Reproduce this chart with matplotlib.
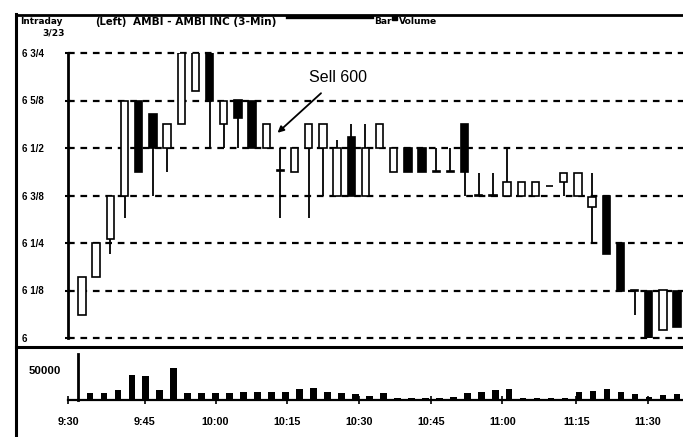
import matplotlib
matplotlib.use("Agg")
import matplotlib.pyplot as plt
from matplotlib.lines import Line2D
from matplotlib.patches import Rectangle

W, H = 683, 437

# ---------------- data ----------------
bar_index = list(range(1, 44))
opens  = [6.06, 6.16, 6.26, 6.375, 6.625, 6.59, 6.5, 6.5625, 6.65, 6.75,
          6.5625, 6.625, 6.625, 6.5, 6.44, 6.4375, 6.5, 6.5, 6.375, 6.53,
          6.375, 6.5, 6.4375, 6.5, 6.5, 6.4375, 6.4375, 6.5625, 6.375, 6.375,
          6.375, 6.375, 6.375, 6.40, 6.41, 6.375, 6.345, 6.375, 6.25, 6.125,
          6.125, 6.02, 6.125]
highs  = [6.16, 6.25, 6.375, 6.625, 6.625, 6.59, 6.5625, 6.75, 6.75, 6.75,
          6.625, 6.625, 6.625, 6.5625, 6.5, 6.5, 6.5625, 6.5625, 6.52, 6.5625,
          6.5625, 6.5625, 6.5, 6.5, 6.5, 6.5, 6.5, 6.5625, 6.434, 6.434,
          6.5, 6.41, 6.41, 6.40, 6.434, 6.434, 6.434, 6.375, 6.25, 6.125,
          6.125, 6.125, 6.125]
lows   = [6.06, 6.16, 6.22, 6.315, 6.4375, 6.375, 6.4375, 6.5625, 6.65, 6.5,
          6.5, 6.5, 6.5, 6.5, 6.316, 6.4375, 6.316, 6.375, 6.375, 6.375,
          6.375, 6.5, 6.4375, 6.4375, 6.4375, 6.4375, 6.4375, 6.375, 6.375, 6.375,
          6.375, 6.375, 6.375, 6.40, 6.375, 6.375, 6.25, 6.22, 6.125, 6.06,
          6.0, 6.02, 6.03]
closes = [6.16, 6.25, 6.375, 6.625, 6.4375, 6.5, 6.5625, 6.75, 6.75, 6.625,
          6.625, 6.58, 6.5, 6.5625, 6.44, 6.5, 6.5625, 6.5625, 6.5, 6.375,
          6.5, 6.5625, 6.5, 6.4375, 6.4375, 6.4375, 6.4375, 6.4375, 6.375, 6.375,
          6.41, 6.41, 6.41, 6.40, 6.434, 6.434, 6.37, 6.22, 6.125, 6.125,
          6.0, 6.125, 6.03]
volumes = [12000, 12000, 17000, 42000, 40000, 17000, 54000, 11000, 11000, 12000,
           11000, 13000, 13000, 14000, 14000, 18000, 20000, 14000, 12000, 10000,
           6000, 12000, 3000, 3000, 3000, 3000, 5000, 12000, 13000, 16000,
           19000, 4000, 3000, 3000, 3000, 13000, 15000, 18000, 13000, 10000,
           5000, 8000, 10000]

price_ticks = [6.0, 6.125, 6.25, 6.375, 6.5, 6.625, 6.75]
price_labels = ["6", "6 1/8", "6 1/4", "6 3/8", "6 1/2", "6 5/8", "6 3/4"]
time_labels = ["9:30", "9:45", "10:00", "10:15", "10:30", "10:45", "11:00", "11:15", "11:30"]
time_positions = [-0.55, 4.95, 10.0, 15.1, 20.25, 25.4, 30.5, 35.8, 40.9]

# ---------------- layout helpers ----------------
def box(x0, y0, x1, y1):
    return [x0 / W, 1 - y1 / H, (x1 - x0) / W, (y1 - y0) / H]

def px_to_idx(x):
    return (x - 82) / 14.17 + 1

FONT = "Liberation Sans"
WIDE = "DejaVu Sans"
fig = plt.figure(figsize=(W / 100, H / 100), dpi=100)
fig.patch.set_facecolor("white")

# overlay for frame / decoration in pixel coords
ov = fig.add_axes([0, 0, 1, 1])
ov.set_xlim(0, W)
ov.set_ylim(H, 0)
ov.axis("off")
ov.add_line(Line2D([16, 16], [14, 437], color="black", lw=2.2))
ov.add_line(Line2D([16, 683], [14.5, 14.5], color="black", lw=2.0))
ov.add_line(Line2D([16, 683], [347, 347], color="black", lw=2.2))
ov.text(20, 22, "Intraday", fontsize=6.4, fontweight="bold", family=WIDE, va="center")
ov.text(95, 22, "(Left)", fontsize=7.2, fontweight="bold", family=WIDE, va="center")
ov.text(133, 22, "AMBI - AMBI INC (3-Min)", fontsize=7.6, fontweight="bold",
        family=WIDE, va="center")
ov.add_line(Line2D([287, 372], [17, 17], color="black", lw=2.4))
ov.text(374, 22, "Bar", fontsize=6.6, fontweight="bold", family=WIDE, va="center")
ov.add_patch(Rectangle((392, 15), 5, 5, color="black"))
ov.text(399, 22, "Volume", fontsize=6.6, fontweight="bold", family=WIDE, va="center")
ov.text(42, 33, "3/23", fontsize=6.6, fontweight="bold", family=WIDE, va="center")

# ---------------- price panel ----------------
ax = fig.add_axes(box(68, 53, 683, 338))
ax.set_xlim(px_to_idx(68), px_to_idx(683))
ax.set_ylim(6.0, 6.75)
for s in ["top", "right", "bottom"]:
    ax.spines[s].set_visible(False)
ax.spines["left"].set_linewidth(2.0)
ax.set_xticks([])
ax.set_yticks(price_ticks)
ax.set_yticklabels(price_labels, fontsize=7.0, fontweight="bold", family=FONT)
ax.tick_params(axis="y", direction="inout", length=5, width=1.5, pad=0)
for lab in ax.get_yticklabels():
    lab.set_horizontalalignment("left")
    lab.set_transform(ax.get_yaxis_transform())
    lab.set_x((22 - 68) / 615)
for p in price_ticks:
    ax.axhline(p, color="black", lw=1.6, ls=(0, (3, 2.6)), zorder=1, clip_on=False)

body_w = 0.52
for i, o, h, l, c in zip(bar_index, opens, highs, lows, closes):
    ax.vlines(i, l, h, color="black", lw=1.3, zorder=2)
    up = c >= o
    ax.bar(i, abs(c - o) if abs(c - o) > 0 else 0.001, bottom=min(o, c), width=body_w,
           color="white" if up else "black", edgecolor="black", lw=1.2, zorder=3)

ax.annotate("Sell 600", xy=(14.8, 6.54), xytext=(19.1, 6.686), fontsize=11.5,
            family=FONT, ha="center", va="center",
            arrowprops=dict(arrowstyle="-|>", color="black", lw=1.3,
                            shrinkA=6, shrinkB=0, mutation_scale=9))

# ---------------- volume panel ----------------
axv = fig.add_axes(box(68, 354, 683, 400))
axv.set_xlim(px_to_idx(68), px_to_idx(683))
axv.set_ylim(0, 76667)
for s in ["top", "right"]:
    axv.spines[s].set_visible(False)
axv.spines["left"].set_linewidth(2.0)
axv.spines["left"].set_position(("data", px_to_idx(70)))
axv.spines["bottom"].set_linewidth(1.6)
axv.bar(bar_index, volumes, width=0.45, color="black", zorder=3)
axv.set_yticks([50000])
axv.set_yticklabels(["50000"], fontsize=8.2, fontweight="bold", family=FONT)
axv.tick_params(axis="y", length=0, pad=12)
axv.set_xticks(time_positions)
axv.set_xticklabels(time_labels, fontsize=7.8, fontweight="bold", family=FONT)
axv.tick_params(axis="x", direction="inout", length=6, width=1.2, pad=9)

fig.savefig("out.png", dpi=100)
